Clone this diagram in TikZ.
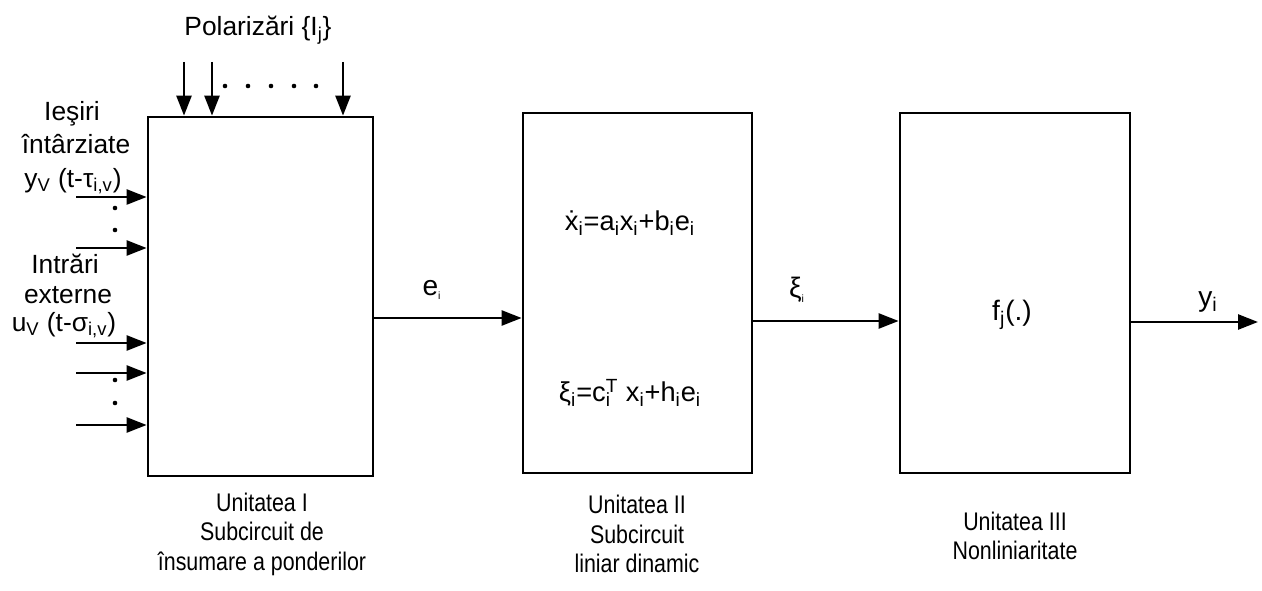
\documentclass[tikz,border=0pt,12pt]{standalone}
\usepackage{fontspec}
\setmainfont{Liberation Sans}
\newfontfamily\narrowfont[FakeStretch=0.84]{Liberation Sans}
\usetikzlibrary{arrows.meta}

\tikzset{
  unit/.style={draw, rectangle, line width=1.6pt, inner sep=0pt},
  sig/.style={line width=1.4pt, -{Triangle[length=0.4cm,width=0.3cm]}},
  txt/.style={inner sep=0pt, align=center, font=\fontsize{15}{18}\selectfont},
  eqn/.style={inner sep=0pt, font=\fontsize{15.5}{17}\selectfont},
  sigtxt/.style={inner sep=0pt, font=\fontsize{16}{18}\selectfont},
  caption/.style={inner sep=0pt, align=center, font=\narrowfont\fontsize{14.5}{16.8}\selectfont},
}

\begin{document}
\begin{tikzpicture}[x=0.02cm, y=-0.02cm]
        \useasboundingbox (0,0) rectangle (1262,591);

        % Units
        \node[unit, minimum width=4.5cm, minimum height=7.18cm] (u1) at (260.5,296.5) {};
        \node[unit, minimum width=4.58cm, minimum height=7.2cm] (u2) at (637.5,293) {};
        \node[unit, minimum width=4.6cm, minimum height=7.2cm] (u3) at (1015,293) {};

        % Polarizations on top
        \node[txt] (pol) at (258,30) {Polarizări \{I\textsubscript{j}\}};
        \coordinate (p1) at (184,62);
        \coordinate (p2) at (212,62);
        \coordinate (p3) at (343,62);
        \draw[sig] (p1) -- (u1.north -| p1);
        \draw[sig] (p2) -- (u1.north -| p2);
        \draw[sig] (p3) -- (u1.north -| p3);
        \foreach \x in {225,248,271,294,316}
            \fill (\x,86) circle (1.3pt);

        % Delayed outputs
        \node[txt] (ies) at (72,114) {Ieşiri};
        \node[txt] (int) at (76,144) {întârziate};
        \node[txt] (yv) at (73,181) {y\textsubscript{V} (t-τ\textsubscript{i,v})};
        \coordinate (y1) at (76,197);
        \coordinate (y2) at (76,248);
        \draw[sig] (y1) -- (u1.west |- y1);
        \draw[sig] (y2) -- (u1.west |- y2);
        \fill (115,208) circle (1.3pt);
        \fill (115,230) circle (1.3pt);

        % External inputs
        \node[txt] (intr) at (65,264) {Intrări};
        \node[txt] (ext) at (68,295) {externe};
        \node[txt] (uv) at (64,325) {u\textsubscript{V} (t-σ\textsubscript{i,v})};
        \coordinate (x1) at (76,343);
        \coordinate (x2) at (76,373);
        \coordinate (x3) at (76,425);
        \draw[sig] (x1) -- (u1.west |- x1);
        \draw[sig] (x2) -- (u1.west |- x2);
        \draw[sig] (x3) -- (u1.west |- x3);
        \fill (115,380) circle (1.3pt);
        \fill (115,403) circle (1.3pt);

        % Signals between units
        \coordinate (ein) at (0,318);
        \coordinate (xin) at (0,321);
        \coordinate (yout) at (1258,322);
        \draw[sig] (u1.east |- ein) -- (u2.west |- ein);
        \draw[sig] (u2.east |- xin) -- (u3.west |- xin);
        \draw[sig] (u3.east |- yout) -- (yout);
        \node[sigtxt] (e) at (432,290) {e\textsubscript{\tiny i}};
        \node[sigtxt] (xi) at (797,290) {ξ\textsubscript{\tiny i}};
        \node[sigtxt] (yi) at (1208,302) {y\textsubscript{i}};

        % Inside the units
        \node[eqn] (eq1) at (630,223) {\.{x}\textsubscript{i}=a\textsubscript{i}x\textsubscript{i}+b\textsubscript{i}e\textsubscript{i}};
        \node[eqn] (eq2) at (630,393) {ξ\textsubscript{i}=c\rlap{\textsubscript{i}}\textsuperscript{T} x\textsubscript{i}+h\textsubscript{i}e\textsubscript{i}};
        \node[sigtxt] (fj) at (1012,315) {f\textsubscript{j}(.)};

        % Captions
        \node[caption] (c1) at (262,534) {Unitatea I\\Subcircuit de\\însumare a ponderilor};
        \node[caption] (c2) at (637,534) {Unitatea II\\Subcircuit\\liniar dinamic};
        \node[caption] (c3) at (1015,536) {Unitatea III\\Nonliniaritate};

\end{tikzpicture}
\end{document}
